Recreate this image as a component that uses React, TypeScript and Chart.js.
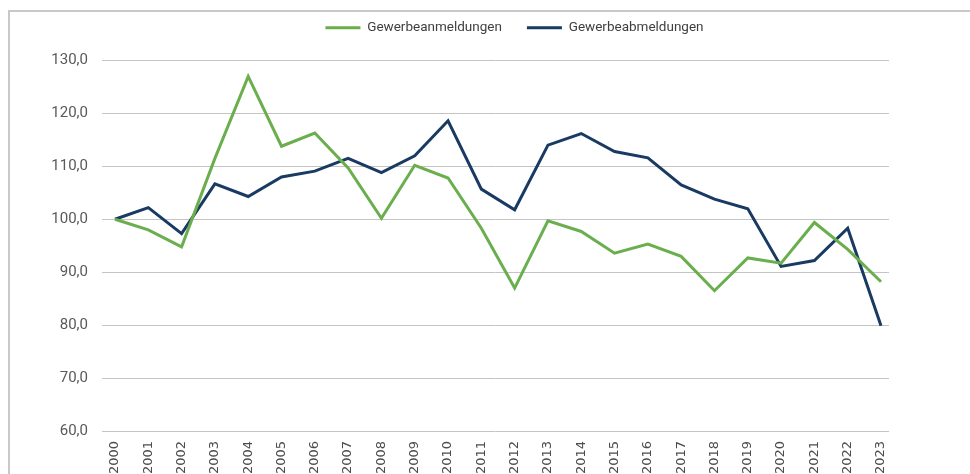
import React, { useEffect, useRef } from "react";
import { Chart, registerables } from "chart.js";

Chart.register(...registerables);

const years = [
  "2000", "2001", "2002", "2003", "2004", "2005", "2006", "2007", "2008", "2009", "2010", "2011",
  "2012", "2013", "2014", "2015", "2016", "2017", "2018", "2019", "2020", "2021", "2022", "2023",
];
const seriesNames = ["Gewerbeanmeldungen", "Gewerbeabmeldungen"];
const gewerbeanmeldungen = [
  100.0, 98.0, 94.8, 111.5, 127.0, 113.8, 116.3, 109.7, 100.2, 110.2, 107.8, 98.3,
  87.0, 99.7, 97.7, 93.6, 95.3, 93.0, 86.5, 92.7, 91.7, 99.4, 94.3, 88.2,
];
const gewerbeabmeldungen = [
  100.0, 102.2, 97.3, 106.7, 104.3, 108.0, 109.1, 111.5, 108.8, 112.0, 118.6, 105.7,
  101.8, 114.0, 116.2, 112.8, 111.6, 106.5, 103.8, 102.0, 91.1, 92.2, 98.3, 79.9,
];
const yMin = 60;
const yMax = 130;
const yStep = 10;

const GREEN = "#6aae4e";
const BLUE = "#183a63";

const legendShift = {
  id: "legendShift",
  afterLayout(chart: any) {
    const l = chart.legend;
    if (!l) return;
    const dx = 70;
    const dy = -16;
    l.left += dx;
    l.right += dx;
    l.top += dy;
    l.bottom += dy;
  },
};

export default function App() {
  const ref = useRef<HTMLCanvasElement | null>(null);

  useEffect(() => {
    if (!ref.current) return;
    const chart = new Chart(ref.current, {
      type: "line",
      data: {
        datasets: [
          {
            label: seriesNames[0],
            data: gewerbeanmeldungen.map((v, i) => ({ x: i, y: v })),
            borderColor: GREEN,
            backgroundColor: GREEN,
            borderWidth: 3,
            pointRadius: 0,
            tension: 0,
          },
          {
            label: seriesNames[1],
            data: gewerbeabmeldungen.map((v, i) => ({ x: i, y: v })),
            borderColor: BLUE,
            backgroundColor: BLUE,
            borderWidth: 3,
            pointRadius: 0,
            tension: 0,
          },
        ],
      },
      options: {
        animation: false,
        responsive: false,
        devicePixelRatio: 1,
        layout: { padding: { top: 12, left: 0, right: 81, bottom: 0 } },
        plugins: {
          legend: {
            position: "top",
            labels: {
              boxWidth: 35,
              boxHeight: 3,
              padding: 25,
              color: "#404040",
              font: { family: "Roboto, 'Liberation Sans', sans-serif", size: 13.5 },
              generateLabels: (c: any) =>
                c.data.datasets.map((ds: any, i: number) => ({
                  text: ds.label,
                  fillStyle: ds.borderColor,
                  strokeStyle: ds.borderColor,
                  lineWidth: 0,
                  hidden: false,
                  datasetIndex: i,
                  fontColor: "#404040",
                })),
            },
          },
          tooltip: { enabled: false },
        },
        scales: {
          x: {
            type: "linear",
            min: -0.39,
            max: 23.24,
            afterBuildTicks: (axis: any) => {
              axis.ticks = years.map((_, i) => ({ value: i }));
            },
            afterFit: (s: any) => {
              s.height = 43;
            },
            ticks: {
              autoSkip: false,
              minRotation: 90,
              maxRotation: 90,
              padding: 10,
              color: "#4d4d4d",
              font: { family: "'DejaVu Sans', sans-serif", size: 13 },
              callback: (v: any) => years[v as number] ?? "",
            },
            grid: { display: false, drawTicks: false },
            border: { display: false },
          },
          y: {
            min: yMin,
            max: yMax,
            afterFit: (s: any) => {
              s.width = 102;
            },
            ticks: {
              stepSize: yStep,
              padding: 14,
              color: "#595959",
              font: { family: "Roboto, sans-serif", size: 15 },
              callback: (v: any) => Number(v).toFixed(1).replace(".", ","),
            },
            grid: { color: "#c4c4c4", lineWidth: 1, drawTicks: false },
            border: { display: false },
          },
        },
      },
      plugins: [legendShift],
    } as any);
    return () => chart.destroy();
  }, []);

  return (
    <div style={{ position: "fixed", left: 0, top: 0, width: 970, height: 474, overflow: "hidden", background: "#fff" }}>
      <div
        style={{
          position: "absolute",
          left: 8,
          top: 10,
          width: 1200,
          height: 1000,
          borderLeft: "2px solid #c8c8c8",
          borderTop: "2px solid #c8c8c8",
        }}
      />
      <canvas
        ref={ref}
        width={970}
        height={474}
        style={{ position: "absolute", left: 0, top: 0, width: 970, height: 474, display: "block" }}
      />
    </div>
  );
}
